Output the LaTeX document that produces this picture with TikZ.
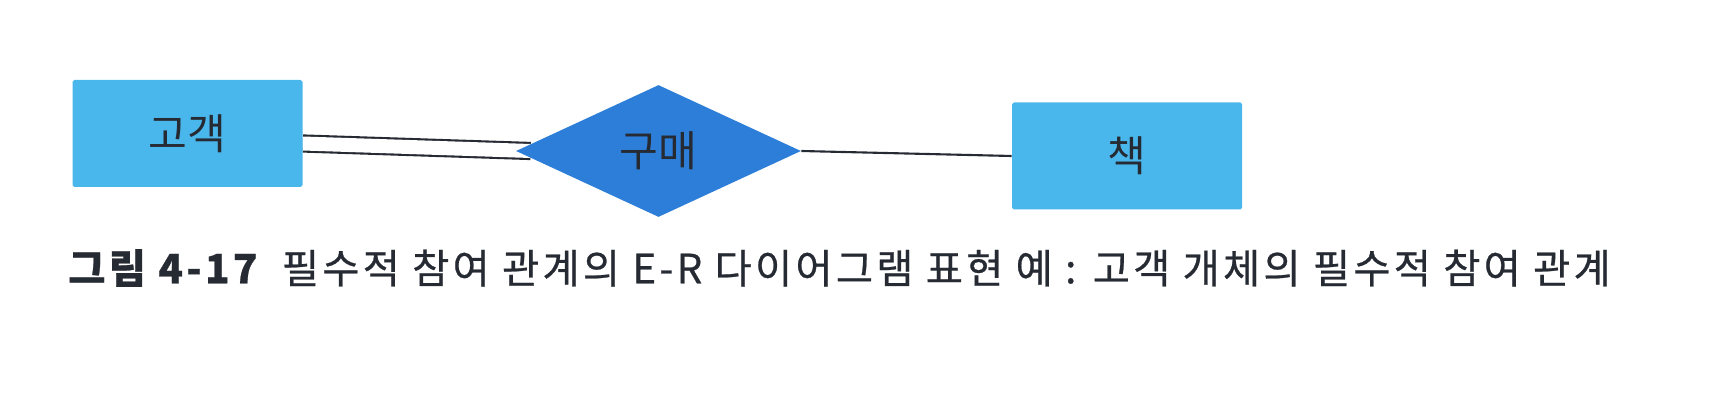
\documentclass[tikz,border=0pt]{standalone}
\usepackage{fontspec}
\usepackage{xcolor}
\usetikzlibrary{shapes.geometric,calc,backgrounds}
\setmainfont{Noto Sans CJK KR}
\newfontfamily\capfont[LetterSpace=8,FakeBold=0.6]{Noto Sans CJK KR}
\definecolor{entityblue}{HTML}{4AB7EC}
\definecolor{relblue}{HTML}{2D7ED8}
\definecolor{diagramink}{HTML}{262A33}

\begin{document}
\begin{tikzpicture}[-,auto,
  entity/.style={fill=entityblue, rectangle, rounded corners=1pt, minimum width=4.6cm, minimum height=2.14cm, text=diagramink, font=\fontsize{24}{28}\selectfont},
  relation/.style={fill=relblue, diamond, inner sep=0pt, minimum width=5.7cm, minimum height=2.64cm, text=diagramink, font=\fontsize{24}{28}\selectfont},
  link/.style={draw=diagramink, line width=1.2pt},
  caption/.style={anchor=west, inner sep=0pt, text=diagramink, font=\capfont\fontsize{23}{27}\selectfont}]
\useasboundingbox (0,0) rectangle (34.28,8.08);
\node[entity]   (gogaek) at (3.75,5.41) {고객};
\node[relation] (gumae)  at (13.17,5.06) {구매};
\node[entity]   (chaek)  at (22.54,4.96) {책};
\begin{scope}[on background layer]
\draw[link, double=white, double distance=0.28cm] ($(gogaek.east)+(0,-0.2)$) -- ($(gumae.west)+(0.3,0)$);
\end{scope}
\draw[link] (gumae.east) -- (chaek.west);
\node[caption] (caption) at (1.36,2.72) {{\bfseries 그림 4-17}\hspace{0.3em} 필수적 참여 관계의 E-R 다이어그램 표현 예 : 고객 개체의 필수적 참여 관계};
\end{tikzpicture}
\end{document}
